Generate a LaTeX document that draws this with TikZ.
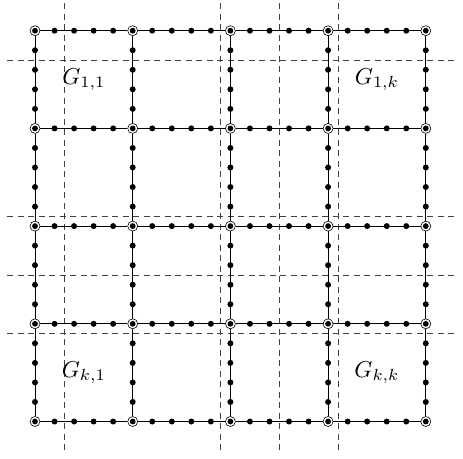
\documentclass[tikz,border=0pt]{standalone}
\begin{document}
\begin{tikzpicture}[x=1pt,y=-1pt,
  dot/.style={circle,fill=black,inner sep=0pt,minimum size=6pt},
  corner/.style={circle,draw,line width=0.6pt,fill=white,inner sep=0pt,minimum size=10pt,
    path picture={\fill[black] (path picture bounding box.center) circle (2.9pt);}},
  gridline/.style={line width=1pt},
  cut/.style={line width=0.7pt,black!75,dash pattern=on 6pt off 4.5pt},
  lbl/.style={inner sep=0pt}]
\useasboundingbox (0,0) rectangle (463,458);
\def\ox{35}\def\oy{30.7}\def\sp{97.7}
% dashed cut lines
\foreach \i/\p in {1/0.3,2/1.9,3/2.5,4/3.1} {
  \coordinate (vt\i) at ({\ox+\sp*\p},3);
  \coordinate (vb\i) at ({\ox+\sp*\p},453);
  \coordinate (hl\i) at (7,{\oy+\sp*\p});
  \coordinate (hr\i) at (458,{\oy+\sp*\p});
  \draw[cut] (vt\i) -- (vb\i);
  \draw[cut] (hl\i) -- (hr\i);
}
% corner nodes
\foreach \i in {0,...,4} {
  \foreach \j in {0,...,4} {
    \node[corner] (c-\i-\j) at ({\ox+\sp*\i},{\oy+\sp*\j}) {};
  }
}
% grid lines
\foreach \i in {0,...,4} {
  \foreach \j in {0,...,3} {
    \pgfmathtruncatemacro{\jn}{\j+1}
    \draw[gridline] (c-\i-\j) -- (c-\i-\jn);
    \draw[gridline] (c-\j-\i) -- (c-\jn-\i);
  }
}
% intermediate dots
\foreach \i in {0,...,4} {
  \foreach \j in {0,...,3} {
    \foreach \k in {1,...,4} {
      \node[dot] (h-\i-\j-\k) at ({\ox+\sp*(\j+0.2*\k)},{\oy+\sp*\i}) {};
      \node[dot] (v-\i-\j-\k) at ({\ox+\sp*\i},{\oy+\sp*(\j+0.2*\k)}) {};
    }
  }
}
% labels
\node[lbl] (g11) at ({\ox+\sp*0.5},{\oy+\sp*0.5}) {\scalebox{2.3}{$G_{1,1}$}};
\node[lbl] (g1k) at ({\ox+\sp*3.5},{\oy+\sp*0.5}) {\scalebox{2.3}{$G_{1,k}$}};
\node[lbl] (gk1) at ({\ox+\sp*0.5},{\oy+\sp*3.5}) {\scalebox{2.3}{$G_{k,1}$}};
\node[lbl] (gkk) at ({\ox+\sp*3.5},{\oy+\sp*3.5}) {\scalebox{2.3}{$G_{k,k}$}};
\end{tikzpicture}
\end{document}
